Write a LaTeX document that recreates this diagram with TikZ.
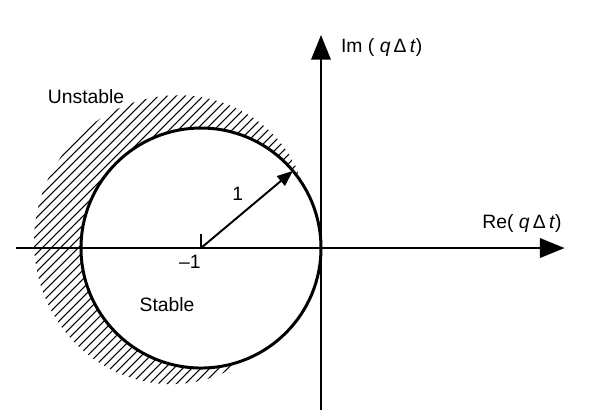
\documentclass[tikz,border=0pt]{standalone}
\usepackage{fontspec}
\setmainfont{Liberation Sans}
\usetikzlibrary{arrows.meta,positioning,calc}

\begin{document}
\begin{tikzpicture}[x=2.4cm, y=2.4cm,
  axis/.style={line width=1.4pt, -{Triangle[length=14pt, width=11pt]}},
  rim/.style={line width=1.7pt},
  hatch/.style={line width=0.6pt},
  radarrow/.style={line width=1.1pt, -{Triangle[length=9pt, width=7pt]}},
  lbl/.style={font=\fontsize{11}{13}\selectfont, inner sep=1pt},
]
  \useasboundingbox (-2.675,-1.4) rectangle (2.325,2.067);

  %% Key points
  \coordinate (O) at (0,0);
  \coordinate (C) at (-1,0);
  \coordinate (xmin) at (-2.54,0);
  \coordinate (xmax) at (2.03,0);
  \coordinate (ymin) at (0,-1.35);
  \coordinate (ymax) at (0,1.775);
  \coordinate (R) at ($(C)+(40:1)$);
  \coordinate (tick) at ($(C)+(0,0.12)$);

  %% Hatching outside the circle (unstable side)
  \begin{scope}
    \clip plot[domain=32:292, samples=80]
        ({-1+(1+0.4*sin(0.6923*(\x-32)))*cos(\x)},
         {(1+0.4*sin(0.6923*(\x-32)))*sin(\x)})
      arc[start angle=292, end angle=32, radius=1] -- cycle;
    \foreach \c in {-5,-4.925,...,0.5}
      \draw[hatch] (\c,-2) -- (\c+4,2);
  \end{scope}

  %% Axes
  \draw[axis] (xmin) -- (xmax);
  \draw[axis] (ymin) -- (ymax);

  %% Unit circle about -1
  \draw[rim] (C) circle[radius=1];
  \draw[line width=1.1pt] (C) -- (tick);
  \draw[radarrow] (C) -- (R) node[lbl, pos=0.4, above=8pt] (one) {1};

  %% Labels
  \node[lbl, anchor=north east] (m1) at (-0.985,-0.04) {–1};
  \node[lbl] (stab) at (-1.283,-0.475) {Stable};
  \node[lbl] (unst) at (-1.958,1.258) {Unstable};
  \node[lbl, anchor=west] (im) at (0.15,1.675)
    {Im ( \textit{q}\,Δ\,\textit{t})};
  \node[lbl] (re) at (1.675,0.208)
    {Re( \textit{q}\,Δ\,\textit{t})};
\end{tikzpicture}
\end{document}
